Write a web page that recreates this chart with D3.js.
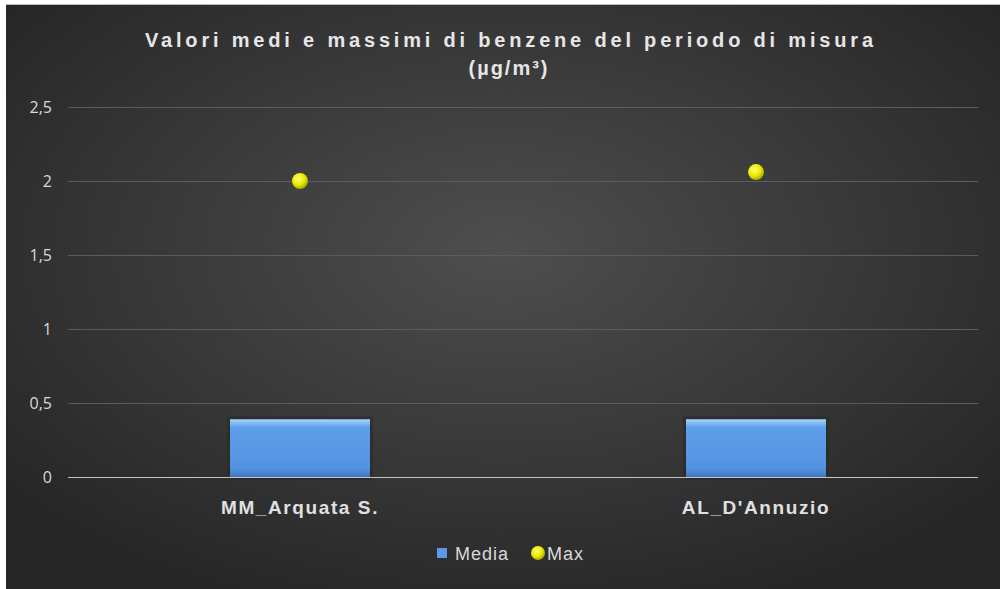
<!DOCTYPE html>
<html>
<head>
<meta charset="utf-8">
<script src="https://cdn.jsdelivr.net/npm/d3@7"></script>
<style>
  body { margin: 0; background: #fff; }
  svg { display: block; }
</style>
</head>
<body>
<div id="chart"></div>
<script>
const categories = ['MM_Arquata S.', "AL_D'Annuzio"];
const media = [0.39, 0.39];
const maxVals = [2.0, 2.06];
const yTicks = [0, 0.5, 1, 1.5, 2, 2.5];
const seriesNames = ['Media', 'Max'];

const W = 1000, H = 589;
const svg = d3.select('#chart').append('svg')
  .attr('width', W).attr('height', H);

const defs = svg.append('defs');
const bg = defs.append('radialGradient').attr('id', 'bg')
  .attr('cx', '50%').attr('cy', '42%').attr('r', '65%');
bg.append('stop').attr('offset', '0%').attr('stop-color', '#4e4e4e');
bg.append('stop').attr('offset', '100%').attr('stop-color', '#262626');

const barG = defs.append('linearGradient').attr('id', 'barG')
  .attr('x1', 0).attr('y1', 0).attr('x2', 0).attr('y2', 1);
barG.append('stop').attr('offset', '0%').attr('stop-color', '#a8d6ff');
barG.append('stop').attr('offset', '14%').attr('stop-color', '#5e9ee9');
barG.append('stop').attr('offset', '85%').attr('stop-color', '#5292e0');
barG.append('stop').attr('offset', '100%').attr('stop-color', '#3f78c0');

const dotG = defs.append('radialGradient').attr('id', 'dotG')
  .attr('cx', '40%').attr('cy', '35%').attr('r', '65%');
dotG.append('stop').attr('offset', '0%').attr('stop-color', '#ffff70');
dotG.append('stop').attr('offset', '60%').attr('stop-color', '#eaea00');
dotG.append('stop').attr('offset', '100%').attr('stop-color', '#a8a800');

svg.append('rect').attr('x', 6).attr('y', 4).attr('width', W - 6).attr('height', H - 4)
  .attr('fill', 'url(#bg)');
svg.append('line').attr('x1', 6).attr('x2', W).attr('y1', 4.5).attr('y2', 4.5)
  .attr('stroke', '#bbb').attr('stroke-width', 1);

const x = d3.scaleBand().domain(categories).range([72, 984]).paddingInner(0).paddingOuter(0);
const y = d3.scaleLinear().domain([0, 2.5]).range([477, 107]);

// gridlines
svg.append('g').selectAll('line').data(yTicks.filter(d => d > 0)).enter().append('line')
  .attr('x1', 68).attr('x2', 978)
  .attr('y1', d => y(d) + 0.5).attr('y2', d => y(d) + 0.5)
  .attr('stroke', '#5c5c5c').attr('stroke-width', 1);

// y labels
svg.append('g').selectAll('text').data(yTicks).enter().append('text')
  .attr('x', 52).attr('y', d => y(d) + 6)
  .attr('text-anchor', 'end')
  .attr('font-family', 'Open Sans, DejaVu Sans, sans-serif')
  .attr('font-size', 16)
  .attr('fill', '#d9d9d9')
  .text(d => String(d).replace('.', ','));

// bars (with a soft dark shadow around)
const bw = 140;
svg.append('g').selectAll('rect').data(categories).enter().append('rect')
  .attr('x', d => x(d) + x.bandwidth() / 2 - bw / 2 - 3)
  .attr('y', (d, i) => y(media[i]) - 3)
  .attr('width', bw + 6)
  .attr('height', (d, i) => y(0) - y(media[i]) + 6)
  .attr('fill', '#2a2a2a').attr('opacity', 0.6);
svg.append('g').selectAll('rect').data(categories).enter().append('rect')
  .attr('x', d => x(d) + x.bandwidth() / 2 - bw / 2)
  .attr('y', (d, i) => y(media[i]))
  .attr('width', bw)
  .attr('height', (d, i) => y(0) - y(media[i]))
  .attr('fill', 'url(#barG)');

// baseline axis
svg.append('line').attr('x1', 68).attr('x2', 978).attr('y1', 477.5).attr('y2', 477.5)
  .attr('stroke', '#c4c4c4').attr('stroke-width', 1.2);

// max points
svg.append('g').selectAll('circle').data(categories).enter().append('circle')
  .attr('cx', d => x(d) + x.bandwidth() / 2)
  .attr('cy', (d, i) => y(maxVals[i]))
  .attr('r', 8)
  .attr('fill', 'url(#dotG)');

// category labels
svg.append('g').selectAll('text').data(categories).enter().append('text')
  .attr('x', d => x(d) + x.bandwidth() / 2)
  .attr('y', 514)
  .attr('text-anchor', 'middle')
  .attr('font-family', 'Liberation Sans, sans-serif')
  .attr('font-size', 19).attr('font-weight', 'bold')
  .attr('letter-spacing', 1.6)
  .attr('fill', '#e0e0e0')
  .text(d => d);

// title
const title = svg.append('text')
  .attr('text-anchor', 'middle')
  .attr('font-family', 'Liberation Sans, sans-serif')
  .attr('font-size', 20).attr('font-weight', 'bold')
  .attr('fill', '#e6e6e6');
title.append('tspan').attr('x', 509).attr('y', 47)
  .attr('textLength', 728).attr('lengthAdjust', 'spacing')
  .text('Valori medi e massimi di benzene del periodo di misura');
title.append('tspan').attr('x', 509).attr('y', 75)
  .attr('letter-spacing', 2)
  .text('(µg/m³)');

// legend
const lg = svg.append('g').attr('font-family', 'Liberation Sans, sans-serif')
  .attr('font-size', 18).attr('fill', '#d9d9d9').attr('letter-spacing', 1);
lg.append('rect').attr('x', 437).attr('y', 548).attr('width', 10).attr('height', 10)
  .attr('fill', '#5a9ae6');
lg.append('text').attr('x', 455).attr('y', 560).text(seriesNames[0]);
lg.append('circle').attr('cx', 538).attr('cy', 553).attr('r', 7).attr('fill', 'url(#dotG)');
lg.append('text').attr('x', 547).attr('y', 560).text(seriesNames[1]);
</script>
</body>
</html>
